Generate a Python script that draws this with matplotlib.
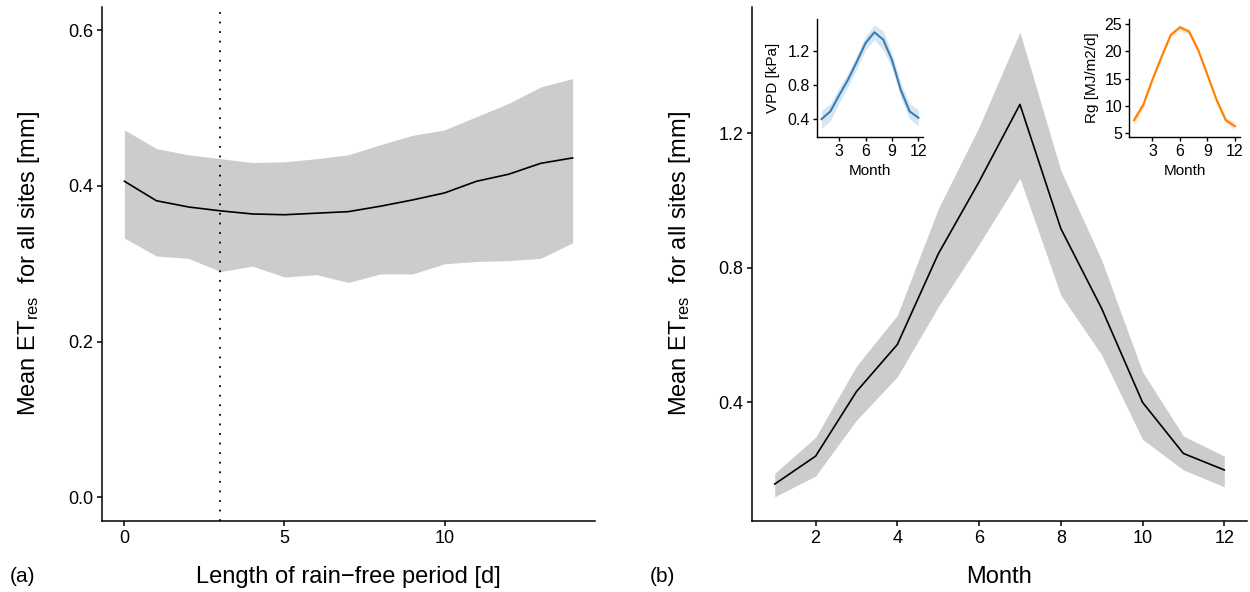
import numpy as np
import matplotlib
matplotlib.use("Agg")
import matplotlib.pyplot as plt

plt.rcParams["font.family"] = ["Liberation Sans", "DejaVu Sans"]
plt.rcParams["mathtext.fontset"] = "custom"
plt.rcParams["mathtext.rm"] = "Liberation Sans"
plt.rcParams["mathtext.it"] = "Liberation Sans:italic"

# =====================
# DATA
# =====================

# (a) ET residual vs length of rain-free period
days = np.arange(0, 15)
et_dry_mean = [0.406, 0.381, 0.373, 0.368, 0.364, 0.363, 0.365, 0.367,
               0.374, 0.382, 0.391, 0.406, 0.415, 0.429, 0.436]
et_dry_upper = [0.472, 0.448, 0.440, 0.435, 0.430, 0.431, 0.435, 0.440,
                0.453, 0.465, 0.472, 0.489, 0.506, 0.527, 0.538]
et_dry_lower = [0.333, 0.310, 0.307, 0.290, 0.297, 0.283, 0.286, 0.276,
                0.287, 0.287, 0.300, 0.303, 0.304, 0.307, 0.327]
dry_threshold = 3

# (b) ET residual per month
months = np.arange(1, 13)
et_month_mean = [0.157, 0.240, 0.432, 0.572, 0.841, 1.056,
                 1.286, 0.917, 0.679, 0.400, 0.248, 0.199]
et_month_upper = [0.189, 0.296, 0.508, 0.659, 0.975, 1.219,
                  1.501, 1.090, 0.823, 0.491, 0.300, 0.240]
et_month_lower = [0.119, 0.181, 0.347, 0.476, 0.684, 0.870,
                  1.066, 0.719, 0.541, 0.290, 0.199, 0.149]

# insets: VPD and Rg per month
vpd_mean = [0.40, 0.49, 0.68, 0.86, 1.07, 1.29, 1.415, 1.33, 1.09, 0.74, 0.49, 0.415]
vpd_upper = [0.50, 0.58, 0.77, 0.94, 1.15, 1.37, 1.50, 1.43, 1.17, 0.82, 0.58, 0.51]
vpd_lower = [0.29, 0.38, 0.59, 0.78, 0.99, 1.21, 1.33, 1.21, 0.99, 0.65, 0.40, 0.32]

rg_mean = [7.4, 10.2, 14.8, 19.0, 23.0, 24.4, 23.6, 20.2, 15.7, 11.1, 7.4, 6.3]
rg_upper = [8.2, 10.8, 15.3, 19.5, 23.4, 24.9, 24.1, 20.7, 16.2, 11.6, 8.0, 7.0]
rg_lower = [6.6, 9.6, 14.3, 18.5, 22.6, 23.9, 23.1, 19.7, 15.2, 10.6, 6.9, 5.7]

ylab = r"Mean ET$_{\mathrm{res}}$  for all sites [mm]"
BAND = "#CCCCCC"


def style_axes(ax, size=13, lw=1.1):
    for s in ["top", "right"]:
        ax.spines[s].set_visible(False)
    for s in ["left", "bottom"]:
        ax.spines[s].set_linewidth(lw)
    ax.tick_params(direction="out", length=3.5, width=lw, labelsize=size,
                   colors="black", pad=3)


def place_labels(ax, xlab, ylab, size, xy, yx):
    ax.set_xlabel(xlab, fontsize=size, va="center")
    ax.set_ylabel(ylab, fontsize=size, va="center")
    ax.xaxis.set_label_coords(0.5, xy)
    ax.yaxis.set_label_coords(yx, 0.5)


fig = plt.figure(figsize=(12.5, 5.92), dpi=100)

# =====================
# PANEL (a)
# =====================
ax1 = fig.add_axes([0.0816, 0.1204, 0.3944, 0.868])
ax1.fill_between(days, et_dry_lower, et_dry_upper, color=BAND, lw=0)
ax1.plot(days, et_dry_mean, color="black", lw=1.2)
ax1.axvline(dry_threshold, color="black", lw=1.3, ls=(0, (1, 4.3)))
ax1.set_xlim(-0.7, 14.7)
ax1.set_ylim(-0.03, 0.63)
ax1.set_xticks([0, 5, 10])
ax1.set_yticks([0.0, 0.2, 0.4, 0.6])
ax1.set_yticklabels(["0.0", "0.2", "0.4", "0.6"])
style_axes(ax1)
place_labels(ax1, "Length of rain\u2212free period [d]", ylab, 17, -0.11, -0.148)

# =====================
# PANEL (b)
# =====================
ax2 = fig.add_axes([0.6018, 0.1204, 0.3956, 0.868])
ax2.fill_between(months, et_month_lower, et_month_upper, color=BAND, lw=0)
ax2.plot(months, et_month_mean, color="black", lw=1.2)
ax2.set_xlim(0.45, 12.55)
ax2.set_ylim(0.048, 1.576)
ax2.set_xticks([2, 4, 6, 8, 10, 12])
ax2.set_yticks([0.4, 0.8, 1.2])
style_axes(ax2)
place_labels(ax2, "Month", ylab, 17, -0.11, -0.146)

fig.text(0.008, 0.026, "(a)", fontsize=15, va="center")
fig.text(0.52, 0.026, "(b)", fontsize=15, va="center")

# =====================
# INSETS
# =====================
ins1 = fig.add_axes([0.6534, 0.769, 0.0852, 0.1984])
ins1.fill_between(months, vpd_lower, vpd_upper, color="#377EB8", alpha=0.2, lw=0)
ins1.plot(months, vpd_mean, color="#377EB8", lw=1.5)
ins1.set_xlim(0.45, 12.55)
ins1.set_ylim(0.193, 1.567)
ins1.set_xticks([3, 6, 9, 12])
ins1.set_yticks([0.4, 0.8, 1.2])
style_axes(ins1, size=11.5, lw=1.0)
ins1.tick_params(length=3, pad=2)
place_labels(ins1, "Month", "VPD [kPa]", 11, -0.29, -0.41)

ins2 = fig.add_axes([0.9032, 0.769, 0.0888, 0.1984])
ins2.fill_between(months, rg_lower, rg_upper, color="#FF7F00", alpha=0.2, lw=0)
ins2.plot(months, rg_mean, color="#FF7F00", lw=1.5)
ins2.set_xlim(0.45, 12.55)
ins2.set_ylim(4.38, 25.86)
ins2.set_xticks([3, 6, 9, 12])
ins2.set_yticks([5, 10, 15, 20, 25])
style_axes(ins2, size=11.5, lw=1.0)
ins2.tick_params(length=3, pad=2)
place_labels(ins2, "Month", "Rg [MJ/m2/d]", 11, -0.29, -0.336)

plt.savefig("out.png", dpi=100)
